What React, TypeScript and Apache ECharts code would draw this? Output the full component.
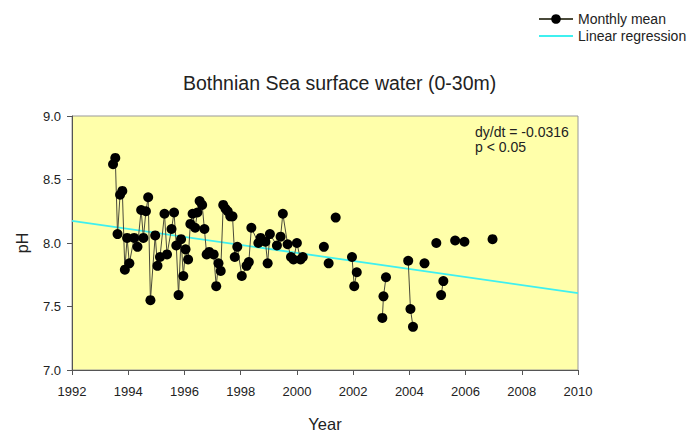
import React, { useEffect, useRef } from "react";
import * as echarts from "echarts";

// Monthly mean pH (decimal year); null marks a gap in the record
const monthYears = [
  1993.46, 1993.54, 1993.62, 1993.71, 1993.79, 1993.88, 1993.96, 1994.04,
  1994.21, 1994.33, 1994.46, 1994.54, 1994.63, 1994.71, 1994.79, 1994.96,
  1995.04, 1995.13, 1995.29, 1995.38, 1995.54, 1995.63, 1995.71, 1995.79,
  1995.88, 1995.96, 1996.04, 1996.13, 1996.21, 1996.29, 1996.38, 1996.46,
  1996.54, 1996.63, 1996.71, 1996.79, 1996.88, 1997.04, 1997.13, 1997.21,
  1997.29, 1997.38, 1997.46, 1997.54, 1997.63, 1997.71, 1997.79, 1997.88,
  1998.04, 1998.21, 1998.29, 1998.38, 1998.63, 1998.71, 1998.88, 1998.96,
  1999.04, 1999.29, 1999.42, 1999.5, 1999.67, 1999.79, 1999.88, 2000.0,
  2000.13, 2000.21, 2000.6, 2000.96, 2001.05, 2001.13, 2001.25, 2001.38,
  2001.7, 2001.96, 2002.04, 2002.13, 2002.6, 2003.04, 2003.08, 2003.17,
  2003.6, 2003.96, 2004.04, 2004.13, 2004.3, 2004.54, 2004.75, 2004.96,
  2005.05, 2005.13, 2005.21, 2005.4, 2005.63, 2005.8, 2005.96, 2006.5,
  2006.96,
];
const monthlyPH = [
  8.62, 8.67, 8.07, 8.38, 8.41, 7.79, 8.04, 7.84,
  8.04, 7.97, 8.26, 8.04, 8.25, 8.36, 7.55, 8.06,
  7.82, 7.89, 8.23, 7.91, 8.11, 8.24, 7.98, 7.59,
  8.03, 7.74, 7.95, 7.87, 8.15, 8.23, 8.12, 8.24,
  8.33, 8.30, 8.11, 7.91, 7.93, 7.91, 7.66, 7.84,
  7.78, 8.30, 8.27, 8.25, 8.21, 8.21, 7.89, 7.97,
  7.74, 7.82, 7.85, 8.12, 8.0, 8.04, 8.01, 7.84,
  8.07, 7.98, 8.05, 8.23, 7.99, 7.89, 7.87, 8.0,
  7.87, 7.89, null, 7.97, null, 7.84, null, 8.20,
  null, 7.89, 7.66, 7.77, null, 7.41, 7.58, 7.73,
  null, 7.86, 7.48, 7.34, null, 7.84, null, 8.0,
  null, 7.59, 7.70, null, 8.02, null, 8.01, null,
  8.03,
];

// Linear regression end points
const regressionYears = [1992, 2010];
const regressionPH = [8.175, 7.606];

const xTicks = [1992, 1994, 1996, 1998, 2000, 2002, 2004, 2006, 2008, 2010];
const yTicks = [7.0, 7.5, 8.0, 8.5, 9.0];

const titleText = "Bothnian Sea surface water (0-30m)";
const seriesNames = ["Monthly mean", "Linear regression"];
const annotationLines = ["dy/dt = -0.0316", "p < 0.05"];

const FONT = "'Liberation Sans', Arial, Helvetica, sans-serif";

export default function App() {
  const ref = useRef<HTMLDivElement>(null);

  useEffect(() => {
    if (!ref.current) return;
    const chart = echarts.init(ref.current, null, { renderer: "svg" });
    const monthly = monthYears.map((y, i) => [
      y,
      monthlyPH[i] === null ? "-" : monthlyPH[i],
    ]);
    const regression = regressionYears.map((y, i) => [y, regressionPH[i]]);

    chart.setOption({
      animation: false,
      backgroundColor: "#ffffff",
      textStyle: { fontFamily: FONT },
      title: {
        text: titleText,
        left: 183,
        top: 73,
        padding: 0,
        textStyle: {
          fontFamily: FONT,
          fontSize: 19.5,
          fontWeight: "normal",
          color: "#222",
        },
      },
      legend: {
        data: [
          { name: seriesNames[0] },
          { name: seriesNames[1], itemStyle: { opacity: 0 } },
        ],
        orient: "vertical",
        left: 533,
        top: 7,
        itemWidth: 34,
        itemHeight: 12,
        itemGap: 3,
        textStyle: { fontFamily: FONT, fontSize: 14, color: "#222" },
      },
      grid: {
        left: 72,
        right: 111,
        top: 116,
        bottom: 62,
        outerBoundsMode: "none",
        containLabel: false,
        show: true,
        backgroundColor: "#ffffaa",
        borderColor: "#999",
        borderWidth: 1,
      },
      xAxis: {
        type: "value",
        min: xTicks[0],
        max: xTicks[xTicks.length - 1],
        interval: 2,
        name: "Year",
        nameLocation: "middle",
        nameGap: 45,
        nameTextStyle: { fontFamily: FONT, fontSize: 16.5, color: "#222" },
        axisLine: { lineStyle: { color: "#555", width: 1 } },
        axisTick: { show: true, length: 5, lineStyle: { color: "#555" } },
        axisLabel: {
          fontFamily: FONT,
          fontSize: 13,
          color: "#222",
          margin: 15,
          formatter: (v: number) => String(v),
        },
        splitLine: { show: false },
      },
      yAxis: {
        type: "value",
        min: yTicks[0],
        max: yTicks[yTicks.length - 1],
        interval: 0.5,
        name: "pH",
        nameLocation: "middle",
        nameGap: 42,
        nameTextStyle: { fontFamily: FONT, fontSize: 16, color: "#222" },
        axisLine: { show: true, lineStyle: { color: "#555", width: 1 } },
        axisTick: { show: true, length: 5, lineStyle: { color: "#555" } },
        axisLabel: {
          fontFamily: FONT,
          fontSize: 13,
          color: "#222",
          margin: 11,
          formatter: (v: number) => v.toFixed(1),
        },
        splitLine: { show: false },
      },
      graphic: [
        {
          type: "text",
          left: 475,
          top: 124,
          style: {
            text: annotationLines.join("\n"),
            font: `14px ${FONT}`,
            fill: "#222",
            lineHeight: 15,
          },
        },
      ],
      series: [
        {
          name: seriesNames[1],
          type: "line",
          data: regression,
          symbol: "none",
          lineStyle: { color: "#3ff0f0", width: 1.8 },
          itemStyle: { color: "#3ff0f0" },
          z: 1,
        },
        {
          name: seriesNames[0],
          type: "line",
          data: monthly,
          connectNulls: false,
          symbol: "circle",
          symbolSize: 10,
          showAllSymbol: true,
          itemStyle: { color: "#000" },
          lineStyle: { color: "#4a4a3a", width: 1 },
          z: 3,
        },
      ],
    });
    return () => chart.dispose();
  }, []);

  return (
    <div
      ref={ref}
      style={{
        position: "fixed",
        left: 0,
        top: 0,
        width: 689,
        height: 432,
        background: "#fff",
      }}
    />
  );
}
